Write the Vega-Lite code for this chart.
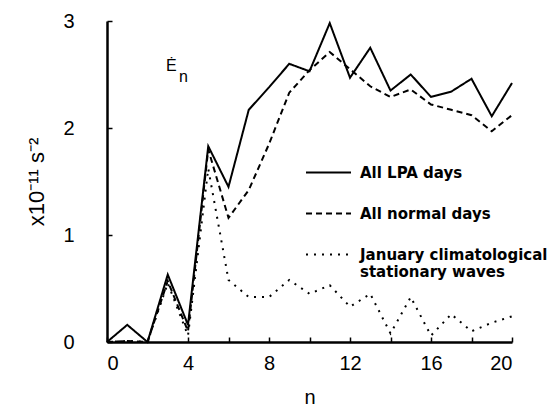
{
  "$schema": "https://vega.github.io/schema/vega-lite/v6.json",
  "width": 405,
  "height": 321,
  "autosize": {"type": "none"},
  "padding": {"left": 107, "top": 21, "right": 40, "bottom": 69},
  "background": "white",
  "config": {
    "view": {"stroke": null},
    "font": "Liberation Sans"
  },
  "layer": [
    {
      "data": {
        "values": [
          {"n": 0, "value": 0, "series": "All LPA days"},
          {"n": 1, "value": 0.16, "series": "All LPA days"},
          {"n": 2, "value": 0, "series": "All LPA days"},
          {"n": 3, "value": 0.63, "series": "All LPA days"},
          {"n": 4, "value": 0.16, "series": "All LPA days"},
          {"n": 5, "value": 1.83, "series": "All LPA days"},
          {"n": 6, "value": 1.45, "series": "All LPA days"},
          {"n": 7, "value": 2.17, "series": "All LPA days"},
          {"n": 8, "value": 2.38, "series": "All LPA days"},
          {"n": 9, "value": 2.6, "series": "All LPA days"},
          {"n": 10, "value": 2.53, "series": "All LPA days"},
          {"n": 11, "value": 2.98, "series": "All LPA days"},
          {"n": 12, "value": 2.47, "series": "All LPA days"},
          {"n": 13, "value": 2.75, "series": "All LPA days"},
          {"n": 14, "value": 2.35, "series": "All LPA days"},
          {"n": 15, "value": 2.5, "series": "All LPA days"},
          {"n": 16, "value": 2.29, "series": "All LPA days"},
          {"n": 17, "value": 2.34, "series": "All LPA days"},
          {"n": 18, "value": 2.46, "series": "All LPA days"},
          {"n": 19, "value": 2.11, "series": "All LPA days"},
          {"n": 20, "value": 2.42, "series": "All LPA days"},
          {"n": 0, "value": 0, "series": "All normal days"},
          {"n": 1, "value": 0.01, "series": "All normal days"},
          {"n": 2, "value": 0, "series": "All normal days"},
          {"n": 3, "value": 0.57, "series": "All normal days"},
          {"n": 4, "value": 0.1, "series": "All normal days"},
          {"n": 5, "value": 1.8, "series": "All normal days"},
          {"n": 6, "value": 1.16, "series": "All normal days"},
          {"n": 7, "value": 1.42, "series": "All normal days"},
          {"n": 8, "value": 1.85, "series": "All normal days"},
          {"n": 9, "value": 2.33, "series": "All normal days"},
          {"n": 10, "value": 2.54, "series": "All normal days"},
          {"n": 11, "value": 2.71, "series": "All normal days"},
          {"n": 12, "value": 2.55, "series": "All normal days"},
          {"n": 13, "value": 2.39, "series": "All normal days"},
          {"n": 14, "value": 2.29, "series": "All normal days"},
          {"n": 15, "value": 2.36, "series": "All normal days"},
          {"n": 16, "value": 2.22, "series": "All normal days"},
          {"n": 17, "value": 2.17, "series": "All normal days"},
          {"n": 18, "value": 2.12, "series": "All normal days"},
          {"n": 19, "value": 1.97, "series": "All normal days"},
          {"n": 20, "value": 2.12, "series": "All normal days"},
          {"n": 0, "value": 0, "series": "January climatological stationary waves"},
          {"n": 1, "value": 0.01, "series": "January climatological stationary waves"},
          {"n": 2, "value": 0, "series": "January climatological stationary waves"},
          {"n": 3, "value": 0.55, "series": "January climatological stationary waves"},
          {"n": 4, "value": 0.06, "series": "January climatological stationary waves"},
          {"n": 5, "value": 1.62, "series": "January climatological stationary waves"},
          {"n": 6, "value": 0.58, "series": "January climatological stationary waves"},
          {"n": 7, "value": 0.42, "series": "January climatological stationary waves"},
          {"n": 8, "value": 0.42, "series": "January climatological stationary waves"},
          {"n": 9, "value": 0.58, "series": "January climatological stationary waves"},
          {"n": 10, "value": 0.45, "series": "January climatological stationary waves"},
          {"n": 11, "value": 0.53, "series": "January climatological stationary waves"},
          {"n": 12, "value": 0.33, "series": "January climatological stationary waves"},
          {"n": 13, "value": 0.45, "series": "January climatological stationary waves"},
          {"n": 14, "value": 0.08, "series": "January climatological stationary waves"},
          {"n": 15, "value": 0.42, "series": "January climatological stationary waves"},
          {"n": 16, "value": 0.06, "series": "January climatological stationary waves"},
          {"n": 17, "value": 0.26, "series": "January climatological stationary waves"},
          {"n": 18, "value": 0.1, "series": "January climatological stationary waves"},
          {"n": 19, "value": 0.18, "series": "January climatological stationary waves"},
          {"n": 20, "value": 0.24, "series": "January climatological stationary waves"}
        ]
      },
      "mark": {"type": "line", "color": "black", "strokeWidth": 2},
      "encoding": {
        "x": {
          "field": "n", "type": "quantitative",
          "scale": {"domain": [0, 20], "nice": false},
          "axis": {
            "values": [0, 2, 4, 6, 8, 10, 12, 14, 16, 18, 20],
            "labelExpr": "datum.value % 4 == 0 ? datum.label : ''",
            "grid": false,
            "domainColor": "black", "domainWidth": 2.5,
            "tickColor": "black", "tickSize": -5, "tickWidth": 1.5,
            "labelFontSize": 20, "labelColor": "black", "labelPadding": 16,
            "title": "n", "titleFontSize": 20, "titleFontWeight": "normal", "titleColor": "black", "titlePadding": 14
          }
        },
        "y": {
          "field": "value", "type": "quantitative",
          "scale": {"domain": [0, 3], "nice": false},
          "axis": {
            "values": [0, 1, 2, 3],
            "format": "d",
            "grid": false,
            "domainColor": "black", "domainWidth": 2.5,
            "tickColor": "black", "tickSize": -5, "tickWidth": 1.5,
            "labelFontSize": 20, "labelColor": "black", "labelPadding": 38,
            "title": "x10⁻¹¹  s⁻²", "titleFontSize": 22, "titleFontWeight": "normal", "titleColor": "black", "titlePadding": 14
          }
        },
        "strokeDash": {
          "field": "series", "type": "nominal",
          "scale": {
            "domain": ["All LPA days", "All normal days", "January climatological stationary waves"],
            "range": [[1, 0], [6, 4], [2, 6]]
          },
          "legend": {
            "title": null,
            "orient": "none",
            "legendX": 198,
            "legendY": 128,
            "symbolType": "stroke",
            "symbolSize": 2025,
            "symbolStrokeWidth": 2,
            "symbolStrokeColor": "black",
            "labelFont": "DejaVu Sans",
            "labelFontSize": 15,
            "labelFontWeight": "bold",
            "labelColor": "black",
            "labelLimit": 300,
            "labelOffset": 8,
            "rowPadding": 9,
            "labelExpr": "datum.label == 'January climatological stationary waves' ? ['January climatological', '\u00a0stationary waves'] : datum.label"
          }
        }
      }
    },
    {
      "data": {"values": [{"label": "Ė"}]},
      "mark": {"type": "text", "fontSize": 16, "align": "left", "baseline": "middle", "color": "black"},
      "encoding": {
        "text": {"field": "label"},
        "x": {"datum": 2.91},
        "y": {"datum": 2.58}
      }
    },
    {
      "data": {"values": [{"label": "n"}]},
      "mark": {"type": "text", "fontSize": 16, "align": "left", "baseline": "middle", "color": "black"},
      "encoding": {
        "text": {"field": "label"},
        "x": {"datum": 3.55},
        "y": {"datum": 2.48}
      }
    }
  ]
}
